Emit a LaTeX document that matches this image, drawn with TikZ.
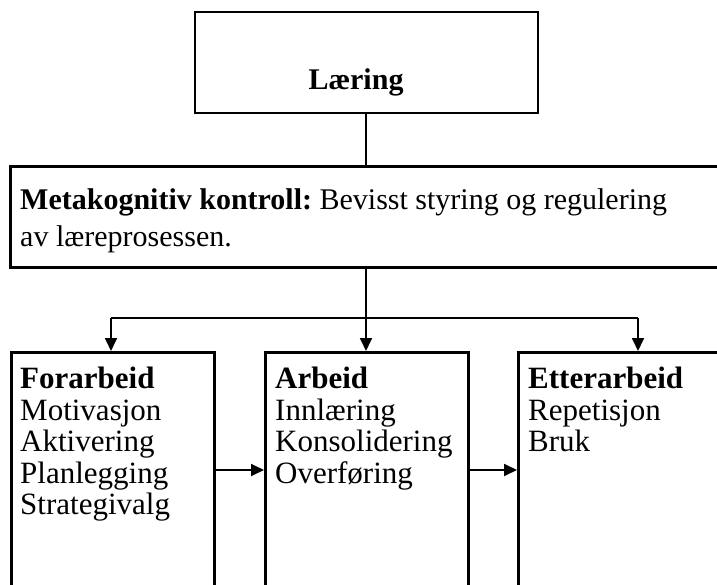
\documentclass[tikz,border=0pt]{standalone}
\usepackage{fontspec}
\setmainfont{Liberation Serif}
\usetikzlibrary{arrows.meta}
\frenchspacing
\tikzset{
  frame/.style={draw, line width=2.6pt, rectangle, inner sep=0pt},
  link/.style={line width=1.8pt},
  arrowlink/.style={link, -{Triangle[length=13pt, width=12pt]}},
  boxtext/.style={anchor=north west, inner sep=0pt, align=left,
    font=\fontsize{31}{31.5}\selectfont},
}
\begin{document}
\begin{tikzpicture}[x=1pt, y=-1pt]
\useasboundingbox (0,0) rectangle (717,585);
\clip (0,0) rectangle (717,585);
% top box
\node[frame, minimum width=343pt, minimum height=101pt] (laering) at (366.5,62.5) {};
\node[font=\fontsize{30}{31}\selectfont\bfseries, anchor=base, inner sep=0pt] (laeringtxt) at (356,90) {Læring};
% control box, running past the right edge
\node[frame, minimum width=760pt, minimum height=101pt, anchor=north west] (meta) at (9,165) {};
\node[boxtext, font=\fontsize{30}{37}\selectfont] (metatxt) at (20,188)
  {\textbf{Metakognitiv kontroll:} Bevisst styring og regulering\\av læreprosessen.};
% three phase boxes
\node[frame, minimum width=203pt, minimum height=260pt, anchor=north west] (for) at (10,351) {};
\node[frame, minimum width=203pt, minimum height=260pt, anchor=north west] (arb) at (264,351) {};
\node[frame, minimum width=230pt, minimum height=260pt, anchor=north west] (etter) at (517,351) {};
\node[boxtext] (fortxt) at (20,367) {\textbf{Forarbeid}\\Motivasjon\\Aktivering\\Planlegging\\Strategivalg};
\node[boxtext] (arbtxt) at (275,367) {\textbf{Arbeid}\\Innlæring\\Konsolidering\\Overføring};
\node[boxtext] (ettertxt) at (528,367) {\textbf{Etterarbeid}\\Repetisjon\\Bruk};
% connectors
\coordinate (split) at (366,318);
\draw[link] (laering.south -| split) -- (meta.north -| split);
\draw[arrowlink] (meta.south -| split) -- (arb.north -| split);
\draw[link] (111,318) coordinate (lbend) -- (638,318) coordinate (rbend);
\draw[arrowlink] (lbend) -- (lbend |- for.north);
\draw[arrowlink] (rbend) -- (rbend |- etter.north);
\coordinate (mid) at (0,470);
\draw[arrowlink] (for.east |- mid) -- (arb.west |- mid);
\draw[arrowlink] (arb.east |- mid) -- (etter.west |- mid);
\end{tikzpicture}
\end{document}
